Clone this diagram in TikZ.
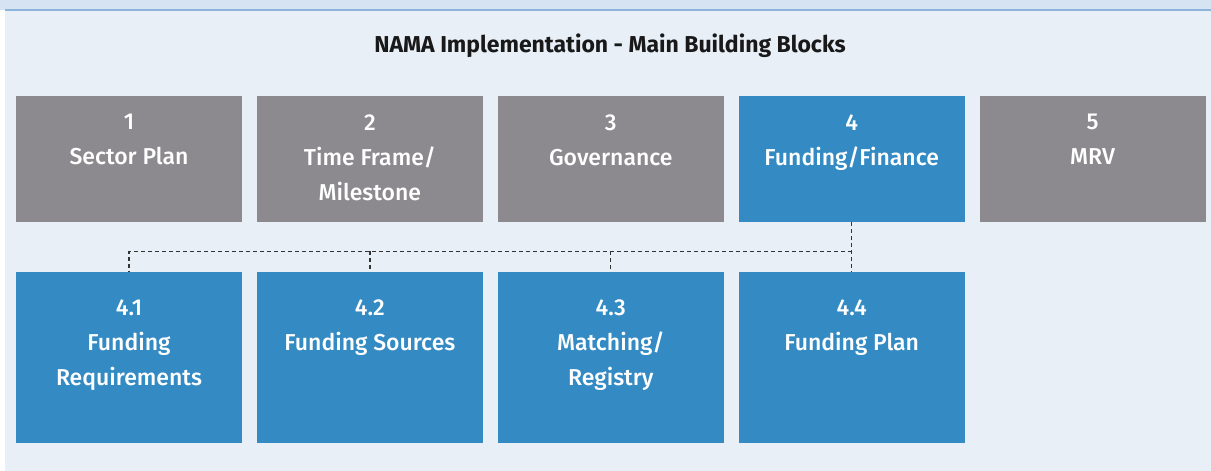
\documentclass[tikz,border=0pt]{standalone}
\usepackage{fontspec}
\setmainfont{Fira Sans}
\newfontfamily\blockfont{Fira Sans Medium}
\usepackage{xcolor}
\usetikzlibrary{positioning,calc}

\definecolor{panelbg}{HTML}{E8EFF7}
\definecolor{bandbg}{HTML}{D5E3F2}
\definecolor{bandline}{HTML}{8DB3DA}
\definecolor{blockgrey}{HTML}{8C8A8E}
\definecolor{blockblue}{HTML}{348BC3}
\definecolor{linkgrey}{HTML}{333333}

\tikzset{
    block/.style={rectangle, minimum width=226pt, inner sep=0pt, draw=none},
    topblock/.style={block, minimum height=126pt},
    subblock/.style={block, minimum height=171pt, fill=blockblue},
    blocktext/.style={anchor=north, inner sep=0pt, align=center, text=white,
        font=\blockfont\fontsize{23}{35}\selectfont},
    link/.style={draw=linkgrey, line width=1.3pt, dash pattern=on 4pt off 3pt}
}

\begin{document}
\begin{tikzpicture}[x=1pt,y=-1pt]
    \useasboundingbox (0,0) rectangle (1211,471);
    % Background
    \fill[white] (0,0) rectangle (1211,471);
    \fill[panelbg] (5,10) rectangle (1211,471);
    \fill[bandbg] (0,0) rectangle (1211,10);
    \draw[bandline, line width=1.5pt] (5,10) -- (1211,10);

    % Title
    \node[font=\fontsize{23}{26}\selectfont\bfseries, text=black!90] (title) at (610,46)
        {NAMA Implementation - Main Building Blocks};

    % Main building blocks
    \node[topblock, fill=blockgrey] (b1) at (129,159) {};
    \node[topblock, fill=blockgrey, right=14.5pt of b1] (b2) {};
    \node[topblock, fill=blockgrey, right=14.5pt of b2] (b3) {};
    \node[topblock, fill=blockblue, right=14.5pt of b3] (b4) {};
    \node[topblock, fill=blockgrey, right=14.5pt of b4] (b5) {};
    \node[blocktext] (t1) at ([yshift=-18.5pt]b1.north) {1\\Sector Plan};
    \node[blocktext] (t2) at ([yshift=-18.5pt]b2.north) {2\\Time Frame/\\Milestone};
    \node[blocktext] (t3) at ([yshift=-18.5pt]b3.north) {3\\Governance};
    \node[blocktext] (t4) at ([yshift=-18.5pt]b4.north) {4\\Funding/Finance};
    \node[blocktext] (t5) at ([yshift=-18.5pt]b5.north) {5\\MRV};

    % Funding sub-blocks
    \node[subblock, below=50pt of b1] (s1) {};
    \node[subblock, right=14.5pt of s1] (s2) {};
    \node[subblock, right=14.5pt of s2] (s3) {};
    \node[subblock, right=14.5pt of s3] (s4) {};
    \node[blocktext] (u1) at ([yshift=-27.5pt]s1.north) {4.1\\Funding\\Requirements};
    \node[blocktext] (u2) at ([yshift=-27.5pt]s2.north) {4.2\\Funding Sources};
    \node[blocktext] (u3) at ([yshift=-27.5pt]s3.north) {4.3\\Matching/\\Registry};
    \node[blocktext] (u4) at ([yshift=-27.5pt]s4.north) {4.4\\Funding Plan};

    % Links
    \coordinate (bus) at ($(b4.south)!0.58!(s4.north)$);
    \draw[link] (b4.south) -- (s4.north);
    \draw[link] (bus) -- (bus -| s1.north) -- (s1.north);
    \foreach \s in {s2,s3} \draw[link] (bus -| \s.north) -- (\s.north);
\end{tikzpicture}
\end{document}
